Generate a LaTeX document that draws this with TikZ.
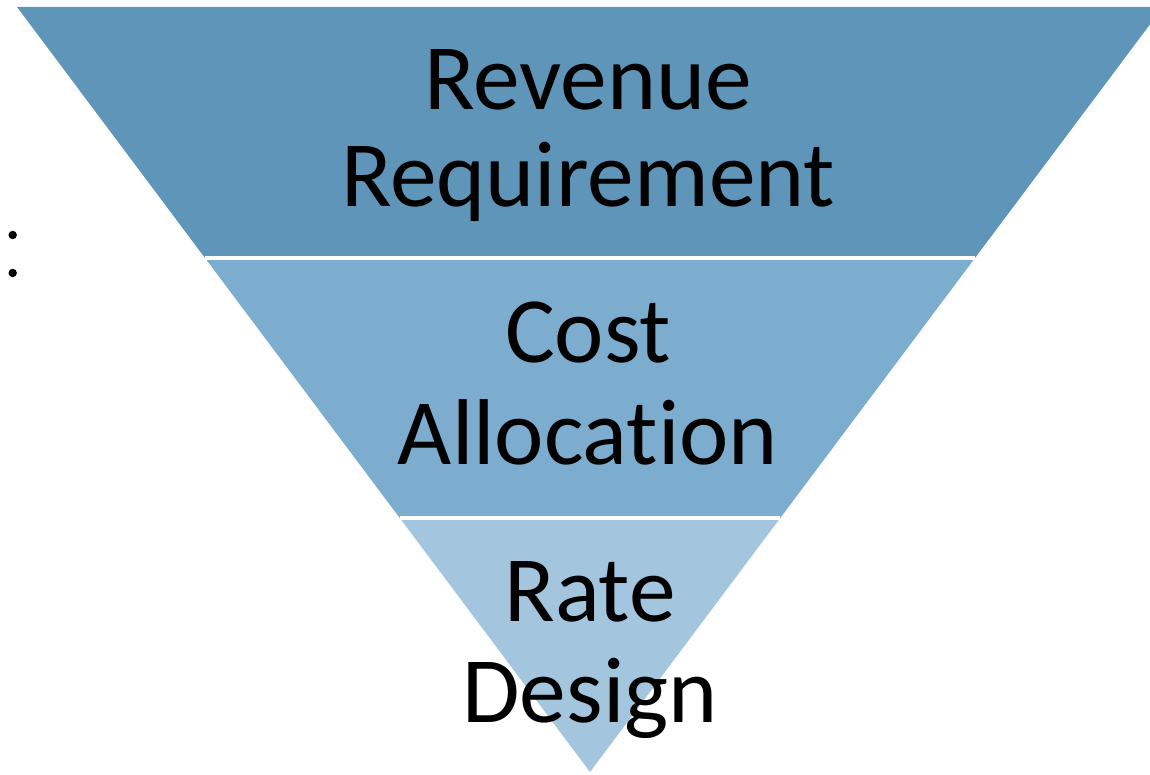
\documentclass[tikz,border=0pt]{standalone}
\usepackage{fontspec}
\setmainfont{Carlito}[Ligatures=NoCommon]
\usetikzlibrary{calc}

\definecolor{bandtop}{RGB}{94,149,184}
\definecolor{bandmid}{RGB}{124,173,206}
\definecolor{bandlow}{RGB}{163,197,221}

\tikzset{
  label/.style={align=center,text=black,inner sep=0pt,
    font=\fontsize{26.6pt}{28.5pt}\selectfont},
  gap/.style={draw=white,line width=1.2pt}
}

\begin{document}
\begin{tikzpicture}
		\useasboundingbox (0,0) rectangle (11.5,7.75);
		\clip (0,0) rectangle (11.5,7.75);
		% corners of the funnel
		\coordinate (tl) at (0.17,7.68);
		\coordinate (tr) at (11.63,7.68);
		\coordinate (ap) at (5.90,0.03);
		\coordinate (l1) at ($(tl)!0.328!(ap)$); % first cut
		\coordinate (r1) at ($(tr)!0.328!(ap)$);
		\coordinate (l2) at ($(tl)!0.668!(ap)$); % second cut
		\coordinate (r2) at ($(tr)!0.668!(ap)$);
		\fill[bandtop] (tl) -- (tr) -- (r1) -- (l1) -- cycle;
		\fill[bandmid] (l1) -- (r1) -- (r2) -- (l2) -- cycle;
		\fill[bandlow] (l2) -- (r2) -- (ap) -- cycle;
		\draw[gap] (l1) -- (r1);
		\draw[gap] (l2) -- (r2);
		% the two stray marks on the left
		\fill[black] (0.127,5.40) circle (1.2pt);
		\fill[black] (0.127,5.02) circle (1.2pt);
		\node[label,anchor=base] (rev) at (5.88,6.65) {Revenue};
		\node[label,anchor=base] (req) at (5.88,5.68) {Requirement};
		\node[label,anchor=base] (cost) at (5.88,4.12) {Cost};
		\node[label,anchor=base] (alloc) at (5.88,3.10) {Allocation};
		\node[label,anchor=base] (rate) at (5.90,1.53) {Rate};
		\node[label,anchor=base] (design) at (5.90,0.52) {Design};
\end{tikzpicture}
\end{document}
